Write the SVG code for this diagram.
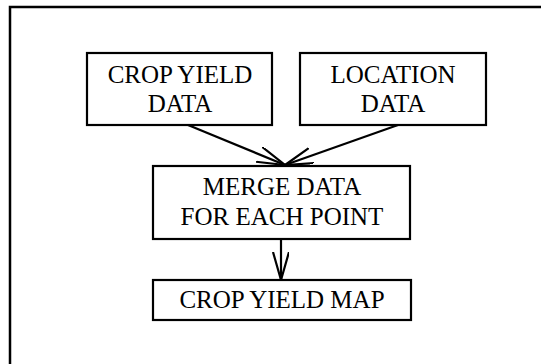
<svg xmlns="http://www.w3.org/2000/svg" width="541" height="364" viewBox="0 0 541 364">
<style>
.box{fill:#fff;stroke:#000;stroke-width:2.2}
.t{font-family:"Liberation Serif","Times New Roman",serif;font-size:25px;fill:#000;text-anchor:middle}
.c{stroke:#000;stroke-width:2.2;fill:none}
</style>
<defs>
<marker id="ah" markerWidth="30" markerHeight="20" refX="28" refY="8" orient="auto" markerUnits="userSpaceOnUse">
<path d="M0,0 L28,8 L0,16" fill="none" stroke="#000" stroke-width="2.2"/>
</marker>
</defs>
<rect x="10" y="7" width="560" height="400" fill="#fff" stroke="#000" stroke-width="2.5"/>
<g id="connectors">
<line class="c" x1="188" y1="125" x2="285" y2="165" marker-end="url(#ah)"/>
<line class="c" x1="398" y1="125" x2="285" y2="165" marker-end="url(#ah)"/>
<line class="c" x1="281" y1="239" x2="281" y2="280" marker-end="url(#ah)"/>
</g>
<g id="crop-yield-data">
<rect class="box" x="87" y="53" width="185" height="72"/>
<text class="t" x="180" y="83">CROP YIELD</text>
<text class="t" x="180" y="112">DATA</text>
</g>
<g id="location-data">
<rect class="box" x="300" y="53" width="186" height="72"/>
<text class="t" x="393" y="83">LOCATION</text>
<text class="t" x="393" y="112">DATA</text>
</g>
<g id="merge-data">
<rect class="box" x="153" y="166" width="257" height="73"/>
<text class="t" x="282" y="195">MERGE DATA</text>
<text class="t" x="282" y="225">FOR EACH POINT</text>
</g>
<g id="crop-yield-map">
<rect class="box" x="153" y="280" width="258" height="40"/>
<text class="t" x="282" y="308">CROP YIELD MAP</text>
</g>
</svg>
